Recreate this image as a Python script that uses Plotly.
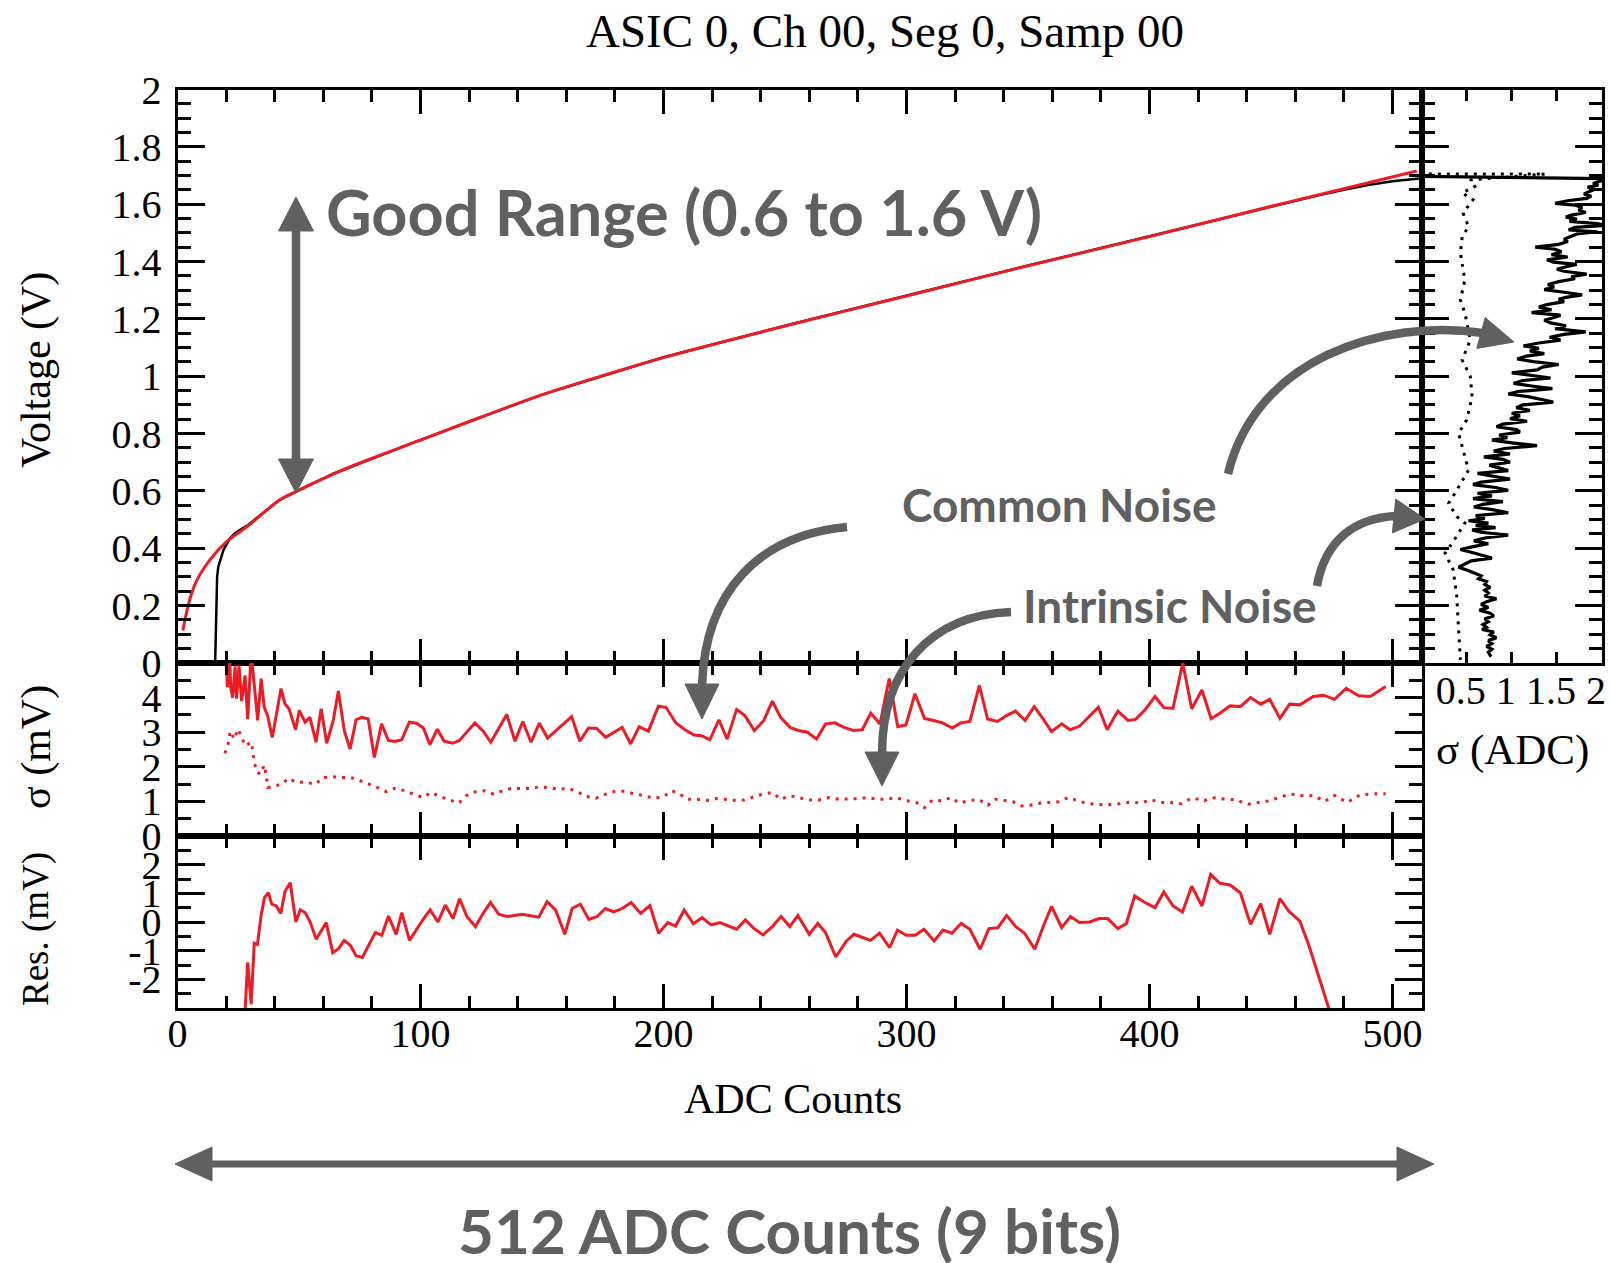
import math
import plotly.graph_objects as go

W, H = 1610, 1263

# ---------------- data ----------------
# main panel: fitted curve (red) and measured transfer curve (black), Voltage vs ADC
fit_adc = [2.2, 7.2, 13.4, 20.2, 28.5, 42.2, 48.4, 64.1, 77.9, 100, 125, 150, 175, 200,
           250, 300, 350, 400, 455, 510]
fit_volt = [0.113, 0.274, 0.360, 0.423, 0.475, 0.569, 0.597, 0.659, 0.707, 0.777, 0.858,
            0.935, 1.002, 1.065, 1.175, 1.280, 1.385, 1.487, 1.603, 1.716]

data_adc = [15.5, 15.9, 16.3, 16.8, 18.9, 21.6, 24.0, 28.5, 42.2, 64.1, 100, 150, 200, 250,
            300, 350, 400, 455, 470, 480, 490, 500, 511]
data_volt = [0.0, 0.15, 0.30, 0.336, 0.394, 0.435, 0.455, 0.478, 0.570, 0.660, 0.778, 0.936,
             1.066, 1.176, 1.281, 1.386, 1.488, 1.602, 1.632, 1.650, 1.667, 1.680, 1.690]

# side panel: sigma (ADC) vs voltage
side_sig_solid = [0.0, 2.25,
                  1.98, 1.90, 1.96, 1.84, 1.92, 1.86, 1.80, 1.88, 1.83, 1.62,
                  1.48, 1.70, 1.78, 1.74, 1.82, 1.66, 1.60, 1.72, 1.64, 1.95,
                  2.05, 1.70, 1.63, 1.95, 1.72, 1.66, 1.58, 1.62, 1.52, 1.26,
                  1.48, 1.55, 1.44, 1.62, 1.39, 1.46, 1.72, 1.60, 1.50, 1.58,
                  1.83, 1.66, 1.70, 1.52, 1.40, 1.47, 1.36, 1.58, 1.78, 1.60,
                  1.52, 1.58, 1.39, 1.30, 1.44, 1.22, 1.54, 1.46, 1.36, 1.43,
                  1.60, 1.48, 1.82, 1.58, 1.42, 1.54, 1.30, 1.13, 1.30, 1.20,
                  1.36, 1.16, 1.06, 1.24, 1.52, 1.34, 1.28, 1.00, 1.20, 1.43,
                  1.12, 1.02, 1.22, 1.45, 1.08, 0.96, 1.18, 1.30, 1.46, 1.12,
                  1.05, 1.20, 1.00, 1.09, 0.98, 1.17, 0.90, 0.83, 1.05, 1.09,
                  0.86, 0.95, 0.78, 1.02, 1.28, 0.92, 0.80, 0.98, 0.69, 0.90,
                  0.98, 0.75, 0.88, 0.96, 0.62, 0.80, 0.98, 0.66, 0.57, 0.82,
                  0.96, 0.62, 0.78, 0.57, 0.90, 0.68, 0.58, 0.80, 0.96, 0.60,
                  0.70, 0.52, 0.74, 0.60, 0.82, 0.56, 0.66, 0.96, 0.70, 0.58,
                  0.74, 0.57, 0.43, 0.55, 0.66, 0.78, 0.55, 0.48, 0.41, 0.50,
                  0.58, 0.66, 0.63, 0.72, 0.70, 0.76, 0.70, 0.74, 0.70, 0.83,
                  0.72, 0.66, 0.74, 0.64, 0.76, 0.80, 0.70, 0.74, 0.68, 0.72,
                  0.67, 0.80, 0.76, 0.83, 0.74, 0.78, 0.72, 0.78, 0.74, 0.77]
side_volt_solid = [1.697, 1.688,
                   1.680, 1.672, 1.666, 1.660, 1.652, 1.645, 1.636, 1.628, 1.620, 1.612,
                   1.603, 1.597, 1.588, 1.580, 1.571, 1.562, 1.555, 1.548, 1.540, 1.532,
                   1.526, 1.519, 1.510, 1.504, 1.496, 1.488, 1.478, 1.470, 1.460, 1.450,
                   1.443, 1.434, 1.424, 1.416, 1.406, 1.398, 1.390, 1.382, 1.373, 1.366,
                   1.356, 1.347, 1.340, 1.330, 1.320, 1.311, 1.302, 1.293, 1.284, 1.275,
                   1.268, 1.260, 1.250, 1.241, 1.232, 1.222, 1.213, 1.204, 1.195, 1.186,
                   1.176, 1.166, 1.155, 1.146, 1.136, 1.126, 1.116, 1.106, 1.097, 1.088,
                   1.079, 1.070, 1.060, 1.051, 1.041, 1.032, 1.022, 1.012, 1.003, 0.994,
                   0.985, 0.975, 0.966, 0.957, 0.947, 0.938, 0.929, 0.920, 0.910, 0.900,
                   0.890, 0.881, 0.871, 0.862, 0.852, 0.843, 0.833, 0.824, 0.814, 0.805,
                   0.795, 0.786, 0.777, 0.767, 0.758, 0.748, 0.739, 0.729, 0.719, 0.710,
                   0.700, 0.690, 0.680, 0.671, 0.661, 0.651, 0.641, 0.631, 0.622, 0.612,
                   0.602, 0.592, 0.583, 0.573, 0.563, 0.553, 0.544, 0.534, 0.524, 0.514,
                   0.504, 0.496, 0.488, 0.480, 0.472, 0.464, 0.456, 0.446, 0.436, 0.426,
                   0.416, 0.406, 0.396, 0.386, 0.376, 0.366, 0.356, 0.346, 0.334, 0.324,
                   0.314, 0.304, 0.294, 0.284, 0.274, 0.264, 0.254, 0.244, 0.234, 0.224,
                   0.214, 0.204, 0.194, 0.184, 0.174, 0.164, 0.154, 0.144, 0.134, 0.124,
                   0.117, 0.108, 0.098, 0.088, 0.078, 0.068, 0.058, 0.048, 0.038, 0.022]

side_sig_dot = [0.08, 1.37, 0.54, 0.59, 0.45, 0.57, 0.46, 0.52, 0.45, 0.43, 0.48, 0.43, 0.48,
                0.54, 0.45, 0.54, 0.56, 0.50, 0.41, 0.46, 0.52, 0.37, 0.30, 0.39, 0.48, 0.34,
                0.26, 0.35, 0.39, 0.41, 0.43]
side_volt_dot = [1.705, 1.705, 1.685, 1.662, 1.639, 1.616, 1.569, 1.522, 1.487, 1.429, 1.336,
                 1.266, 1.220, 1.127, 1.057, 0.999, 0.929, 0.848, 0.801, 0.743, 0.673, 0.592,
                 0.557, 0.511, 0.488, 0.418, 0.383, 0.325, 0.232, 0.116, 0.011]

# sigma panel (mV): total noise (solid) and intrinsic noise (dotted)
sig_adc = [20.0, 20.5, 21.3, 21.9, 22.7, 23.7, 24.3, 25.3, 26.4, 27.8,
           28.9, 30.3, 33.0, 34.4, 35.7, 37.1, 39.0, 42.6, 44.2, 45.9,
           48.6, 50.1, 52.5, 54.5, 57.0, 59.1, 61.4, 64.1, 66.2, 68.7,
           71.0, 73.5, 75.8, 78.5, 81.0, 84.0, 86.8, 89.5, 92.3, 95.4,
           98.4, 101.2, 103.9, 106.9, 109.7, 113.2, 116.0, 122.4, 125.9, 128.9,
           135.5, 138.9, 142.1, 145.5, 148.9, 152.3, 162.2, 165.6, 169.1, 172.5,
           176.2, 183.0, 186.5, 190.0, 193.8, 197.9, 201.0, 205.2, 208.9, 212.5,
           215.7, 219.1, 222.8, 226.2, 230.1, 233.5, 237.4, 241.3, 244.8, 248.2,
           252.1, 255.5, 259.3, 263.0, 266.7, 270.6, 274.3, 278.1, 281.8, 285.3,
           289.1, 292.9, 296.4, 299.8, 303.5, 307.4, 311.1, 314.9, 318.9, 322.3,
           326.1, 330.0, 333.4, 337.4, 341.2, 344.9, 348.8, 352.6, 356.3, 359.7,
           363.9, 367.3, 371.2, 375.1, 379.0, 382.6, 387.0, 391.2, 394.3, 398.1,
           402.3, 405.9, 409.7, 413.7, 417.4, 421.6, 425.4, 429.0, 433.2, 437.4,
           441.6, 445.8, 449.5, 453.7, 457.7, 461.9, 467.4, 471.6, 476.2, 481.0,
           486.1, 490.9, 497.2]
sig_mv = [5.5, 4.3, 5.5, 4.3, 4.0, 4.9, 3.97, 4.93, 3.9, 4.64,
          3.38, 5.3, 3.34, 4.55, 3.72, 3.48, 2.85, 4.26, 3.82, 3.68,
          3.07, 3.63, 3.29, 3.43, 2.71, 3.68, 2.68, 3.34, 4.19, 3.03,
          2.51, 3.36, 3.43, 3.38, 2.27, 3.24, 2.76, 2.73, 2.78, 3.29,
          3.26, 3.12, 2.64, 3.09, 2.74, 2.68, 2.76, 3.27, 3.02, 2.71,
          3.51, 2.74, 3.31, 2.71, 3.26, 2.83, 3.45, 2.74, 3.12, 3.11,
          2.85, 3.14, 2.66, 3.16, 3.03, 3.75, 3.72, 3.26, 3.07, 2.92,
          2.90, 2.78, 3.36, 2.80, 3.66, 3.48, 3.05, 3.34, 3.90, 3.43,
          3.14, 3.05, 3.00, 2.80, 3.24, 3.27, 3.14, 3.05, 3.07, 3.55,
          3.24, 4.55, 3.16, 3.21, 4.11, 3.40, 3.34, 3.27, 3.12, 3.27,
          3.31, 4.35, 3.38, 3.31, 3.48, 3.61, 3.34, 3.74, 3.38, 3.02,
          3.24, 3.07, 3.17, 3.43, 3.72, 3.07, 3.61, 3.34, 3.37, 3.64,
          4.03, 3.71, 3.69, 5.0, 3.68, 4.22, 3.39, 3.55, 3.76, 3.74,
          4.0, 3.81, 3.95, 3.40, 3.81, 3.79, 4.03, 4.07, 3.95, 4.27,
          4.05, 4.03, 4.32]

intr_adc = [19.5, 20.9, 21.7, 23.4, 24.8, 26.1, 27.8, 30.5, 31.5, 32.8,
            34.2, 35.7, 36.7, 37.1, 39.4, 42.9, 45.6, 48.8, 52.9, 56.9,
            59.7, 63.9, 67.6, 71.4, 75.1, 78.8, 82.4, 86.0, 89.5, 93.4,
            97.0, 100.9, 104.3, 108.0, 112.1, 115.8, 118.7, 122.7, 126.5, 130.2,
            133.8, 137.1, 140.9, 144.8, 148.9, 153.0, 156.7, 160.8, 164.5, 168.4,
            172.2, 176.2, 180.1, 184.2, 188.3, 192.4, 195.8, 199.9, 203.4, 206.8,
            209.9, 213.9, 217.8, 221.6, 225.3, 229.2, 233.1, 237.0, 240.8, 244.9,
            248.2, 252.1, 256.2, 260.3, 264.1, 268.1, 272.2, 276.1, 280.2, 284.1,
            288.0, 291.9, 295.7, 299.9, 304.0, 307.4, 310.7, 314.6, 318.4, 321.7,
            325.6, 329.7, 333.5, 336.6, 340.0, 343.9, 347.3, 351.0, 354.9, 358.8,
            362.7, 366.5, 370.0, 373.7, 377.8, 381.9, 386.0, 392.2, 396.4, 400.6,
            404.8, 408.6, 413.2, 417.4, 422.6, 425.8, 430.4, 435.3, 440.5, 445.8,
            449.5, 454.2, 458.3, 463.6, 467.8, 472.0, 476.2, 481.4, 486.7, 491.9,
            497.2]
intr_mv = [2.39, 2.68, 3.03, 2.80, 3.09, 2.92, 2.61, 2.71, 2.15, 1.84,
           1.79, 2.05, 1.67, 1.40, 1.43, 1.50, 1.67, 1.55, 1.55, 1.50,
           1.69, 1.71, 1.69, 1.69, 1.60, 1.50, 1.40, 1.28, 1.38, 1.31,
           1.21, 1.11, 1.26, 1.14, 1.04, 0.95, 1.16, 1.28, 1.31, 1.21,
           1.31, 1.37, 1.37, 1.37, 1.42, 1.40, 1.35, 1.38, 1.28, 1.14,
           1.09, 1.21, 1.29, 1.29, 1.21, 1.16, 1.09, 1.13, 1.31, 1.21,
           1.06, 1.06, 1.03, 1.08, 1.06, 1.03, 1.04, 1.13, 1.21, 1.26,
           1.06, 1.16, 1.09, 1.04, 1.04, 1.11, 1.06, 1.06, 1.08, 1.11,
           1.06, 1.06, 1.11, 1.02, 0.97, 0.82, 1.04, 1.02, 1.11, 0.95,
           1.02, 1.06, 0.89, 1.06, 1.02, 0.99, 0.87, 0.89, 0.95, 0.97,
           0.99, 1.11, 1.04, 0.95, 0.92, 0.90, 0.92, 0.98, 0.95, 1.05,
           0.97, 0.97, 0.93, 1.10, 1.02, 1.11, 1.07, 1.05, 0.92, 0.97,
           1.02, 1.14, 1.21, 1.16, 1.17, 1.00, 1.17, 0.97, 1.19, 1.22,
           1.22]

# residual panel (mV)
res_adc = [27.5, 28.9, 30.3, 31.6, 32.9, 34.4, 35.8, 37.4, 38.8, 40.6,
           42.5, 44.3, 46.4, 48.7, 50.5, 52.5, 54.6, 57.1, 61.2, 63.9,
           66.3, 68.6, 71.1, 73.5, 76.1, 78.6, 81.4, 84.1, 86.8, 90.0,
           92.3, 95.5, 98.5, 101.3, 104.0, 107.2, 110.2, 113.4, 116.1, 119.1,
           122.6, 126.0, 128.8, 132.2, 135.6, 141.8, 148.7, 152.1, 155.6, 159.4,
           162.4, 165.8, 169.3, 172.7, 176.1, 179.6, 183.0, 186.7, 190.6, 194.4,
           198.0, 201.8, 205.0, 208.5, 212.3, 215.9, 219.6, 223.2, 230.1, 233.7,
           237.3, 241.0, 244.8, 248.4, 252.0, 255.3, 260.0, 263.5, 266.7, 270.9,
           275.3, 278.4, 282.0, 285.2, 288.9, 293.1, 296.3, 299.9, 303.6, 307.2,
           311.4, 315.0, 318.7, 322.5, 326.1, 330.3, 333.9, 337.6, 341.2, 345.0,
           348.6, 352.8, 356.1, 359.7, 363.9, 367.5, 371.2, 375.4, 379.2, 382.8,
           387.0, 390.5, 393.9, 398.1, 402.3, 405.9, 409.7, 413.6, 417.4, 421.6,
           425.2, 429.0, 433.2, 437.4, 441.6, 445.8, 449.5, 453.7, 457.3, 461.9,
           465.7, 469.9, 473.7, 476.0]
res_mv = [-3.6, -1.41, -2.87, -0.74, -0.78, 0.23, 0.85, 1.02, 0.62, 0.56,
          0.30, 1.08, 1.37, 0.0, 0.42, 0.33, 0.0, -0.6, -0.02, -1.07,
          -0.93, -0.64, -0.81, -1.18, -1.24, -0.81, -0.37, -0.46, 0.21, -0.43,
          0.33, -0.64, -0.25, 0.12, 0.42, 0.0, 0.59, 0.12, 0.81, 0.19,
          -0.16, 0.33, 0.68, 0.27, 0.19, 0.27, 0.17, 0.71, 0.42, -0.43,
          0.47, 0.62, 0.09, 0.19, 0.47, 0.35, 0.47, 0.68, 0.30, 0.57,
          -0.39, -0.02, -0.14, 0.42, -0.06, 0.15, -0.10, -0.02, -0.25, 0.07,
          -0.23, -0.45, -0.16, 0.19, -0.16, 0.23, -0.43, -0.05, -0.37, -1.22,
          -0.66, -0.43, -0.54, -0.64, -0.39, -0.89, -0.28, -0.46, -0.46, -0.25,
          -0.66, -0.28, -0.39, -0.05, -0.25, -0.95, -0.23, -0.20, 0.23, -0.16,
          -0.39, -0.95, -0.19, 0.54, -0.20, 0.19, -0.02, 0.0, 0.12, 0.12,
          -0.23, -0.05, 0.91, 0.68, 0.50, 1.05, 0.56, 0.35, 1.25, 0.56,
          1.66, 1.35, 1.29, 1.02, -0.08, 0.64, -0.43, 0.82, 0.38, 0.03,
          -0.84, -2.0, -2.98, -3.6]

# tick labels
adc_ticks = [0, 100, 200, 300, 400, 500]
volt_ticks = [0, 0.2, 0.4, 0.6, 0.8, 1, 1.2, 1.4, 1.6, 1.8, 2]
volt_labels = ["0", "0.2", "0.4", "0.6", "0.8", "1", "1.2", "1.4", "1.6", "1.8", "2"]
sig_ticks = [0, 1, 2, 3, 4, 5]
sig_labels = ["0", "1", "2", "3", "4", ""]
res_ticks = [-3, -2, -1, 0, 1, 2, 3]
res_labels = ["", "-2", "-1", "0", "1", "2", ""]
side_ticks = [0.5, 1, 1.5, 2]
side_labels = ["0.5", "1", "1.5", "2"]

# ---------------- layout helpers ----------------
MAIN_X = (177.5, 1421.6)
SIDE_X = (1421.6, 1602.0)
MAIN_Y = (89.5, 663.0)
SIG_Y = (663.0, 836.0)
RES_Y = (836.0, 1008.0)

RED = "#ed1c24"
GRAY = "#606060"
SERIF = "Liberation Serif"
BOLD = "Lato"
TICK_SIZE = 40


def xdom(a):
    return [a[0] / W, a[1] / W]


def ydom(a):
    return [1 - a[1] / H, 1 - a[0] / H]


def pt(x, y):
    return f"{x / W:.5f},{1 - y / H:.5f}"


def axis(**kw):
    d = dict(showline=True, linecolor="black", linewidth=3, mirror="ticks",
             ticks="inside", tickcolor="black", tickwidth=3, showgrid=False,
             zeroline=False, fixedrange=True,
             tickfont=dict(family=SERIF, size=TICK_SIZE, color="black"))
    d.update(kw)
    return d


def minor(dt, ln):
    return dict(ticks="inside", ticklen=ln, tickwidth=3, tickcolor="black",
                tickmode="linear", tick0=0, dtick=dt, showgrid=False)


fig = go.Figure()
fig.add_trace(go.Scatter(x=data_adc, y=data_volt, mode="lines",
                         line=dict(color="black", width=2.5), xaxis="x", yaxis="y"))
fig.add_trace(go.Scatter(x=fit_adc, y=fit_volt, mode="lines", line_shape="spline",
                         line=dict(color=RED, width=3, smoothing=1.2), xaxis="x", yaxis="y"))
fig.add_trace(go.Scatter(x=side_sig_solid, y=side_volt_solid, mode="lines",
                         line=dict(color="black", width=3.2), xaxis="x2", yaxis="y2"))
fig.add_trace(go.Scatter(x=side_sig_dot, y=side_volt_dot, mode="lines",
                         line=dict(color="black", width=3, dash="3px,6px"),
                         xaxis="x2", yaxis="y2"))
fig.add_trace(go.Scatter(x=sig_adc, y=sig_mv, mode="lines",
                         line=dict(color=RED, width=3), xaxis="x3", yaxis="y3"))
fig.add_trace(go.Scatter(x=intr_adc, y=intr_mv, mode="lines",
                         line=dict(color=RED, width=3, dash="3px,6px"),
                         xaxis="x3", yaxis="y3"))
fig.add_trace(go.Scatter(x=res_adc, y=res_mv, mode="lines",
                         line=dict(color=RED, width=3), xaxis="x4", yaxis="y4"))

fig.update_layout(
    width=W, height=H, margin=dict(l=0, r=0, t=0, b=0),
    template="none", showlegend=False, hovermode=False,
    plot_bgcolor="white", paper_bgcolor="white",
    xaxis=axis(domain=xdom(MAIN_X), range=[0, 512], anchor="y", tickmode="array",
               tickvals=adc_ticks, showticklabels=False, ticklen=24, minor=minor(20, 12)),
    yaxis=axis(domain=ydom(MAIN_Y), range=[0, 2], anchor="x", tickmode="array",
               tickvals=volt_ticks, ticktext=volt_labels, ticklen=27, minor=minor(0.05, 13),
               ticklabelstandoff=5),
    xaxis2=axis(domain=xdom(SIDE_X), range=[0, 2], anchor="y2", tickmode="array",
                tickvals=side_ticks, ticktext=side_labels, ticklen=11,
                ticklabelshift=-6, ticklabelstandoff=-10),
    yaxis2=axis(domain=ydom(MAIN_Y), range=[0, 2], anchor="x2", tickmode="array",
                tickvals=volt_ticks, showticklabels=False, ticklen=27, minor=minor(0.05, 13)),
    xaxis3=axis(domain=xdom(MAIN_X), range=[0, 512], anchor="y3", tickmode="array",
                tickvals=adc_ticks, showticklabels=False, ticklen=24, minor=minor(20, 12)),
    yaxis3=axis(domain=ydom(SIG_Y), range=[0, 5], anchor="x3", tickmode="array",
                tickvals=sig_ticks, ticktext=sig_labels, ticklen=27, minor=minor(0.5, 13),
                ticklabelstandoff=5),
    xaxis4=axis(domain=xdom(MAIN_X), range=[0, 512], anchor="y4", tickmode="array",
                tickvals=adc_ticks, ticktext=[str(v) for v in adc_ticks], ticklen=24,
                minor=minor(20, 12), ticklabelstandoff=-12),
    yaxis4=axis(domain=ydom(RES_Y), range=[-3, 3], anchor="x4", tickmode="array",
                tickvals=res_ticks, ticktext=res_labels, ticklen=27, minor=minor(0.5, 13),
                ticklabelstandoff=5),
)


def text(s, x, y, size, family=SERIF, color="black", angle=0, bold=False):
    fig.add_annotation(text=f"<b>{s}</b>" if bold else s, x=x / W, y=1 - y / H,
                       xref="paper", yref="paper", showarrow=False, textangle=angle,
                       xanchor="center", yanchor="middle",
                       font=dict(family=family, size=size, color=color))


text("ASIC 0, Ch 00, Seg 0, Samp 00", 885, 31, 47)
text("Voltage (V)", 36, 370, 42, angle=-90)
text("σ (mV)", 36, 747, 42, angle=-90)
text("Res. (mV)", 36, 929, 37, angle=-90)
text("ADC Counts", 793, 1099, 42)
text("σ (ADC)", 1512, 750, 43)
text("Good Range (0.6 to 1.6 V)", 684, 211, 63, family=BOLD, color=GRAY, bold=True)
text("Common Noise", 1059, 505, 46, family=BOLD, color=GRAY, bold=True)
text("Intrinsic Noise", 1170, 605, 46, family=BOLD, color=GRAY, bold=True)
text("512 ADC Counts (9 bits)", 789, 1230, 62, family=BOLD, color=GRAY, bold=True)


def shaft(path, w=8.5):
    fig.add_shape(type="path", path=path, xref="paper", yref="paper",
                  line=dict(color=GRAY, width=w), fillcolor="rgba(0,0,0,0)")


def head(tip, base, w):
    dx, dy = tip[0] - base[0], tip[1] - base[1]
    L = math.hypot(dx, dy)
    nx, ny = -dy / L, dx / L
    p1 = (base[0] + nx * w / 2, base[1] + ny * w / 2)
    p2 = (base[0] - nx * w / 2, base[1] - ny * w / 2)
    fig.add_shape(type="path", path=f"M {pt(*tip)} L {pt(*p1)} L {pt(*p2)} Z",
                  xref="paper", yref="paper", line=dict(color=GRAY, width=1),
                  fillcolor=GRAY)


def curve(p0, p1, p2, p3):
    return f"M {pt(*p0)} C {pt(*p1)} {pt(*p2)} {pt(*p3)}"


# Good range double arrow
shaft(f"M {pt(296, 229)} L {pt(296, 461)}", 8.5)
head((296, 197), (296, 231), 35)
head((296, 493), (296, 459), 35)
# 512 counts double arrow
shaft(f"M {pt(210, 1164)} L {pt(1399, 1164)}", 7)
head((175, 1164), (212, 1164), 34)
head((1434, 1164), (1397, 1164), 34)
# curved arrows
shaft(curve((1228, 474), (1255, 360), (1380, 318), (1483, 333)))
head((1514, 342), (1481, 333), 32)
shaft(curve((847, 527), (760, 535), (705, 590), (702, 686)))
head((702, 719), (702, 684), 34)
shaft(curve((1011, 612), (930, 615), (882, 670), (882, 754)))
head((882, 786), (882, 752), 34)
shaft(curve((1317, 586), (1325, 540), (1355, 518), (1396, 516)))
head((1425, 519), (1394, 516), 34)

fig.write_html("out.html")
